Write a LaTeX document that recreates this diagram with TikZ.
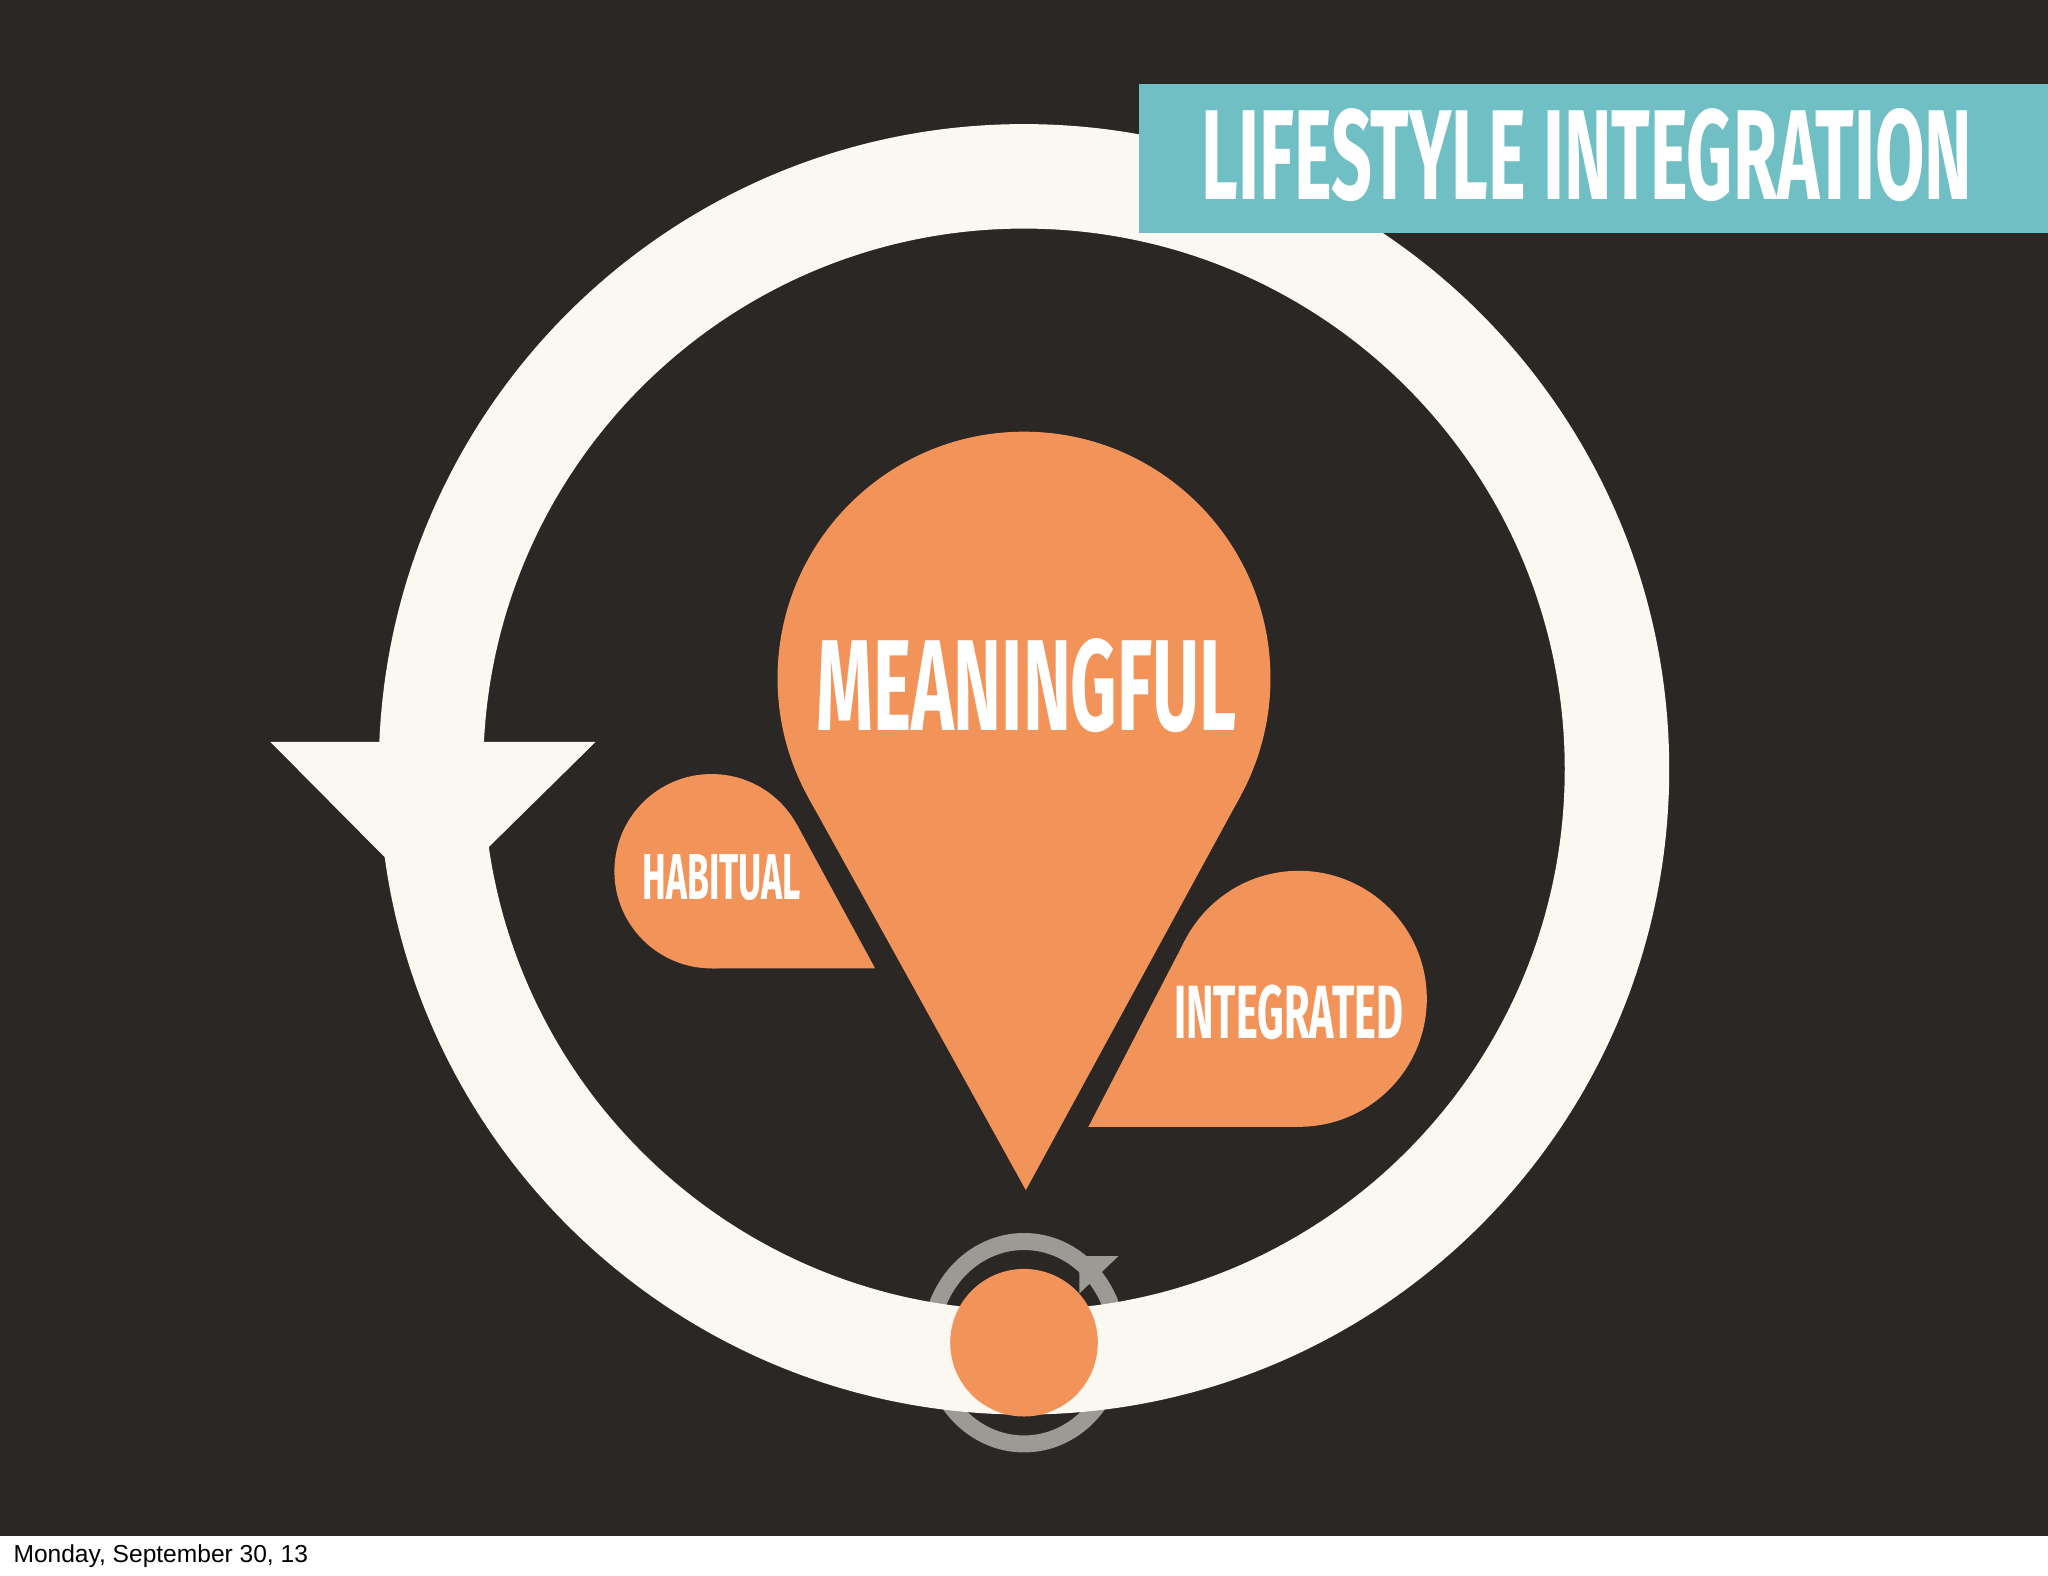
\documentclass[tikz,border=0pt]{standalone}
\usepackage{fontspec}
\setmainfont{Liberation Sans}
\newfontfamily\headfont{Fira Sans}
\usepackage{graphicx}
\definecolor{bgdark}{HTML}{2A2725}
\definecolor{orangefill}{HTML}{F2945A}
\definecolor{ringwhite}{HTML}{FBF8F1}
\definecolor{bannerteal}{HTML}{70BFC5}
\definecolor{ringgray}{HTML}{9C9A95}
\begin{document}
\begin{tikzpicture}[x=0.5pt,y=-0.5pt,
  lbl/.style={inner sep=0pt, outer sep=0pt, anchor=base west, text=white},
  drop/.style={fill=orangefill, draw=none}]
\useasboundingbox (0,0) rectangle (1568,1206);
% background
\fill[white] (0,0) rectangle (1568,1206);
\fill[bgdark] (0,0) rectangle (1568,1176);
% small gray cycle ring (behind white band)
\coordinate (gc) at (784,1028);
\draw[ringgray, line width=6.5pt] (gc) ellipse [x radius=71.5, y radius=77.5];
\fill[ringgray] (826.4,961.7) -- (856.3,961.7) -- (826.4,990.3) -- cycle;
% big white ring
\coordinate (rc) at (784,589);
\draw[ringwhite, line width=40pt] (rc) circle [radius=454];
\fill[ringwhite] (207,568) -- (456,568) -- (330,692) -- cycle;
% orange dot
\fill[orangefill] (gc) circle [radius=56.5];
% banner
\fill[bannerteal] (872,64) rectangle (1568,178);
\node[lbl] (title) at (920,152.4) {\resizebox{295pt}{34.8pt}{\headfont\bfseries LIFESTYLE INTEGRATION}};
% MEANINGFUL drop
\coordinate (mc) at (784,519.2);
\fill[drop] (mc) circle [radius=188.7];
\fill[drop] (785.4,911.2) -- (618.9,610.6) -- (mc) -- (949.7,609.5) -- cycle;
\node[lbl] (meaningful) at (625,559) {\resizebox{161pt}{35.2pt}{\headfont\bfseries MEANINGFUL}};
% HABITUAL drop
\coordinate (hc) at (544.8,667);
\fill[drop] (hc) circle [radius=74.4];
\fill[drop] (670,741.4) -- (544.8,741.4) -- (hc) -- (610.2,631.4) -- cycle;
\node[lbl] (habitual) at (492,688.4) {\resizebox{60.5pt}{17.2pt}{\headfont\bfseries HABITUAL}};
% INTEGRATED drop
\coordinate (ic) at (994.4,764.7);
\fill[drop] (ic) circle [radius=98];
\fill[drop] (833.3,862.7) -- (994.4,862.7) -- (ic) -- (907.4,719.6) -- cycle;
\node[lbl] (integrated) at (899,795) {\resizebox{87.7pt}{20.5pt}{\headfont\bfseries INTEGRATED}};
% footer date
\node[inner sep=0pt, anchor=base west, text=black] (date) at (10,1196.5) {\fontsize{9.4}{11}\selectfont Monday, September 30, 13};
\end{tikzpicture}
\end{document}
